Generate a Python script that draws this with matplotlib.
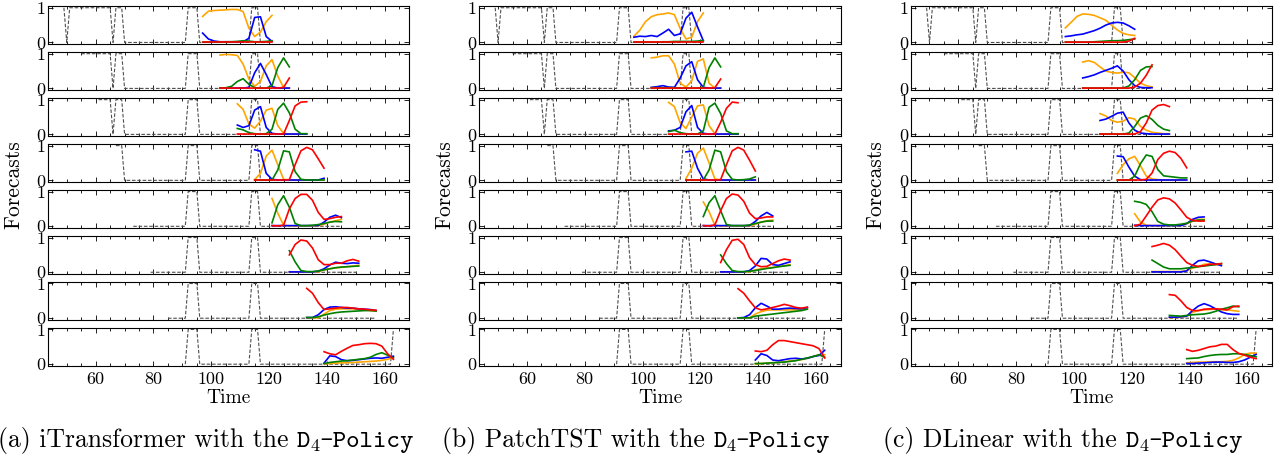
import matplotlib
matplotlib.use("Agg")
import matplotlib.pyplot as plt
from matplotlib.ticker import MultipleLocator
from matplotlib.transforms import IdentityTransform

# ---------------- data ----------------
gt_time_start = 49
gt_values = [1, 0, 1, 1, 1, 1, 1, 1, 1, 1, 1, 1, 1, 1, 1, 1, 1, 0, 1, 1, 1,
             0, 0, 0, 0, 0, 0, 0, 0, 0, 0, 0, 0, 0, 0, 0, 0, 0, 0, 0, 0, 0, 0,
             1, 1, 1, 1,
             0, 0, 0, 0, 0, 0, 0, 0, 0, 0, 0, 0, 0, 0, 0, 0, 0, 0,
             1, 1, 1,
             0, 0, 0, 0, 0, 0, 0, 0, 0, 0, 0, 0, 0, 0, 0, 0, 0, 0, 0, 0, 0, 0, 0,
             0, 0, 0, 0, 0, 0, 0, 0, 0, 0, 0, 0, 0, 0, 0, 0, 0, 0, 0, 0, 0, 0, 0,
             1]
window_starts = [49, 55, 61, 67, 73, 79, 85, 91]
window_length = 73
forecast_starts = [97, 103, 109, 115, 121, 127, 133, 139]
horizon_steps = [0, 2, 4, 6, 8, 10, 12, 14, 16, 18, 20, 22, 24]

xtick_values = [60, 80, 100, 120, 140, 160]
xtick_labels = ["60", "80", "100", "120", "140", "160"]

models = ["iTransformer", "PatchTST", "DLinear"]
panel_letters = ["(a)", "(b)", "(c)"]

itr_orange = [
    [0.75, 0.90, 0.92, 0.93, 0.94, 0.95, 0.95, 0.89, 0.41, 0.17, 0.30, 0.60, 0.78],
    [0.96, 0.98, 0.97, 0.95, 0.70, 0.27, 0.06, 0.20, 0.65, 0.83, 0.35, 0.03, 0.01],
    [0.88, 0.72, 0.30, 0.18, 0.38, 0.70, 0.75, 0.25, 0.03, 0.01, 0.01, 0.01, 0.01],
    [0.02, 0.20, 0.70, 0.87, 0.45, 0.03, 0.01, 0.01, 0.01, 0.01, 0.01, 0.01, 0.01],
    [0.80, 0.38, 0.03, 0.01, 0.01, 0.01, 0.01, 0.01, 0.01, 0.06, 0.12, 0.16, 0.20],
    [0.01, 0.01, 0.01, 0.01, 0.01, 0.01, 0.07, 0.10, 0.13, 0.14, 0.16, 0.18, 0.20],
    [0.01, 0.01, 0.01, 0.12, 0.22, 0.26, 0.27, 0.27, 0.27, 0.26, 0.25, 0.22, 0.20],
    [0.01, 0.02, 0.03, 0.04, 0.04, 0.05, 0.06, 0.07, 0.08, 0.09, 0.11, 0.14, 0.20],
]
itr_blue = [
    [0.27, 0.10, 0.04, 0.02, 0.02, 0.02, 0.02, 0.02, 0.12, 0.72, 0.74, 0.17, 0.03],
    [0.01, 0.01, 0.01, 0.01, 0.01, 0.03, 0.45, 0.72, 0.40, 0.05, 0.01, 0.01, 0.01],
    [0.27, 0.20, 0.25, 0.70, 0.80, 0.20, 0.03, 0.01, 0.01, 0.01, 0.01, 0.01, 0.01],
    [0.88, 0.84, 0.20, 0.03, 0.01, 0.01, 0.01, 0.01, 0.01, 0.01, 0.01, 0.01, 0.06],
    [0.02, 0.02, 0.02, 0.02, 0.02, 0.02, 0.02, 0.02, 0.02, 0.12, 0.26, 0.32, 0.25],
    [0.01, 0.01, 0.01, 0.01, 0.01, 0.03, 0.10, 0.21, 0.29, 0.26, 0.25, 0.27, 0.26],
    [0.02, 0.02, 0.10, 0.25, 0.32, 0.33, 0.31, 0.29, 0.29, 0.27, 0.26, 0.25, 0.22],
    [0.03, 0.24, 0.22, 0.13, 0.10, 0.11, 0.13, 0.15, 0.17, 0.18, 0.17, 0.20, 0.23],
]
itr_green = [
    [0.01, 0.01, 0.01, 0.01, 0.02, 0.02, 0.03, 0.05, 0.04, 0.02, 0.02, 0.03, 0.05],
    [0.01, 0.02, 0.06, 0.20, 0.28, 0.12, 0.02, 0.01, 0.01, 0.08, 0.60, 0.88, 0.62],
    [0.17, 0.13, 0.05, 0.02, 0.01, 0.02, 0.15, 0.72, 0.90, 0.62, 0.15, 0.02, 0.02],
    [0.01, 0.01, 0.01, 0.01, 0.30, 0.85, 0.82, 0.25, 0.03, 0.01, 0.01, 0.01, 0.01],
    [0.10, 0.62, 0.88, 0.55, 0.08, 0.02, 0.02, 0.03, 0.05, 0.08, 0.12, 0.14, 0.13],
    [0.62, 0.30, 0.05, 0.02, 0.02, 0.04, 0.07, 0.10, 0.13, 0.15, 0.16, 0.17, 0.18],
    [0.02, 0.02, 0.04, 0.09, 0.13, 0.16, 0.18, 0.19, 0.20, 0.21, 0.22, 0.22, 0.21],
    [0.02, 0.05, 0.07, 0.09, 0.10, 0.12, 0.14, 0.16, 0.20, 0.28, 0.33, 0.26, 0.18],
]
itr_red = [
    [0.01, 0.01, 0.01, 0.01, 0.01, 0.01, 0.01, 0.01, 0.01, 0.01, 0.01, 0.01, 0.01],
    [0.01, 0.01, 0.01, 0.01, 0.01, 0.01, 0.01, 0.01, 0.01, 0.01, 0.01, 0.03, 0.30],
    [0.01, 0.01, 0.01, 0.01, 0.01, 0.01, 0.01, 0.01, 0.01, 0.40, 0.82, 0.93, 0.94],
    [0.01, 0.01, 0.01, 0.01, 0.01, 0.01, 0.02, 0.45, 0.85, 0.95, 0.88, 0.62, 0.35],
    [0.02, 0.01, 0.03, 0.50, 0.80, 0.92, 0.92, 0.75, 0.40, 0.20, 0.22, 0.26, 0.28],
    [0.50, 0.80, 0.93, 0.90, 0.70, 0.36, 0.22, 0.22, 0.26, 0.26, 0.33, 0.37, 0.32],
    [0.86, 0.72, 0.45, 0.25, 0.27, 0.29, 0.31, 0.31, 0.29, 0.27, 0.26, 0.24, 0.23],
    [0.36, 0.30, 0.27, 0.37, 0.46, 0.54, 0.56, 0.59, 0.60, 0.59, 0.52, 0.30, 0.14],
]

pts_orange = [
    [0.18, 0.35, 0.60, 0.74, 0.80, 0.82, 0.85, 0.80, 0.40, 0.10, 0.15, 0.60, 0.85],
    [0.88, 0.90, 0.94, 0.94, 0.70, 0.15, 0.04, 0.22, 0.78, 0.85, 0.15, 0.01, 0.01],
    [0.92, 0.80, 0.33, 0.17, 0.50, 0.82, 0.85, 0.25, 0.02, 0.01, 0.01, 0.01, 0.01],
    [0.05, 0.35, 0.78, 0.93, 0.50, 0.04, 0.01, 0.01, 0.01, 0.01, 0.01, 0.01, 0.01],
    [0.70, 0.42, 0.03, 0.01, 0.01, 0.01, 0.01, 0.01, 0.01, 0.06, 0.12, 0.16, 0.18],
    [0.01, 0.01, 0.01, 0.01, 0.01, 0.01, 0.07, 0.10, 0.12, 0.14, 0.16, 0.19, 0.22],
    [0.01, 0.01, 0.01, 0.12, 0.19, 0.23, 0.24, 0.24, 0.24, 0.24, 0.24, 0.24, 0.28],
    [0.01, 0.02, 0.03, 0.04, 0.05, 0.07, 0.09, 0.11, 0.13, 0.17, 0.22, 0.27, 0.27],
]
pts_blue = [
    [0.15, 0.18, 0.17, 0.20, 0.17, 0.27, 0.38, 0.20, 0.25, 0.70, 0.87, 0.45, 0.05],
    [0.03, 0.05, 0.08, 0.04, 0.03, 0.30, 0.65, 0.77, 0.25, 0.03, 0.01, 0.01, 0.01],
    [0.10, 0.12, 0.20, 0.65, 0.83, 0.20, 0.03, 0.01, 0.01, 0.01, 0.01, 0.01, 0.01],
    [0.82, 0.84, 0.35, 0.04, 0.01, 0.01, 0.01, 0.01, 0.01, 0.01, 0.01, 0.01, 0.01],
    [0.02, 0.02, 0.02, 0.02, 0.02, 0.02, 0.02, 0.02, 0.02, 0.14, 0.30, 0.40, 0.30],
    [0.01, 0.01, 0.01, 0.01, 0.01, 0.05, 0.18, 0.40, 0.38, 0.22, 0.20, 0.25, 0.30],
    [0.01, 0.02, 0.10, 0.30, 0.43, 0.35, 0.26, 0.26, 0.28, 0.29, 0.28, 0.27, 0.31],
    [0.12, 0.30, 0.25, 0.12, 0.10, 0.13, 0.16, 0.17, 0.15, 0.17, 0.22, 0.25, 0.40],
]
pts_green = [
    [0.01, 0.01, 0.01, 0.01, 0.01, 0.02, 0.02, 0.03, 0.03, 0.03, 0.03, 0.04, 0.06],
    [0.02, 0.02, 0.02, 0.02, 0.02, 0.01, 0.01, 0.01, 0.01, 0.03, 0.60, 0.88, 0.62],
    [0.08, 0.12, 0.05, 0.02, 0.01, 0.01, 0.10, 0.78, 0.90, 0.60, 0.10, 0.02, 0.02],
    [0.01, 0.01, 0.01, 0.01, 0.30, 0.87, 0.82, 0.25, 0.03, 0.01, 0.02, 0.04, 0.10],
    [0.28, 0.68, 0.88, 0.45, 0.05, 0.02, 0.02, 0.02, 0.04, 0.08, 0.12, 0.15, 0.15],
    [0.50, 0.25, 0.05, 0.02, 0.02, 0.03, 0.05, 0.08, 0.11, 0.13, 0.16, 0.18, 0.20],
    [0.01, 0.01, 0.01, 0.06, 0.08, 0.10, 0.12, 0.14, 0.16, 0.18, 0.20, 0.22, 0.26],
    [0.02, 0.02, 0.03, 0.04, 0.05, 0.06, 0.08, 0.10, 0.14, 0.18, 0.22, 0.27, 0.20],
]
pts_red = [
    [0.01, 0.01, 0.01, 0.01, 0.01, 0.01, 0.01, 0.01, 0.01, 0.01, 0.01, 0.01, 0.01],
    [0.01, 0.01, 0.01, 0.01, 0.01, 0.01, 0.01, 0.01, 0.01, 0.01, 0.01, 0.02, 0.27],
    [0.01, 0.01, 0.01, 0.01, 0.01, 0.01, 0.01, 0.01, 0.01, 0.35, 0.75, 0.93, 0.91],
    [0.01, 0.01, 0.01, 0.01, 0.01, 0.01, 0.02, 0.45, 0.85, 0.95, 0.87, 0.58, 0.27],
    [0.02, 0.01, 0.04, 0.45, 0.80, 0.93, 0.90, 0.72, 0.38, 0.22, 0.24, 0.27, 0.27],
    [0.28, 0.65, 0.92, 0.95, 0.80, 0.42, 0.22, 0.16, 0.17, 0.25, 0.33, 0.38, 0.35],
    [0.85, 0.72, 0.50, 0.30, 0.24, 0.27, 0.31, 0.35, 0.40, 0.36, 0.31, 0.29, 0.32],
    [0.38, 0.36, 0.40, 0.56, 0.68, 0.68, 0.65, 0.62, 0.59, 0.56, 0.53, 0.45, 0.18],
]

dl_orange = [
    [0.42, 0.58, 0.75, 0.82, 0.81, 0.78, 0.71, 0.64, 0.50, 0.36, 0.26, 0.22, 0.20],
    [0.76, 0.80, 0.75, 0.62, 0.50, 0.46, 0.44, 0.47, 0.45, 0.31, 0.15, 0.08, 0.04],
    [0.60, 0.53, 0.40, 0.35, 0.38, 0.48, 0.44, 0.23, 0.12, 0.06, 0.04, 0.02, 0.02],
    [0.20, 0.45, 0.62, 0.69, 0.42, 0.12, 0.04, 0.02, 0.01, 0.01, 0.01, 0.01, 0.01],
    [0.36, 0.12, 0.03, 0.02, 0.02, 0.02, 0.02, 0.02, 0.02, 0.07, 0.15, 0.20, 0.20],
    [0.02, 0.02, 0.02, 0.02, 0.02, 0.02, 0.05, 0.12, 0.16, 0.23, 0.24, 0.22, 0.24],
    [0.02, 0.02, 0.03, 0.06, 0.17, 0.22, 0.24, 0.25, 0.27, 0.24, 0.24, 0.22, 0.20],
    [0.04, 0.05, 0.06, 0.06, 0.07, 0.07, 0.07, 0.08, 0.11, 0.18, 0.28, 0.32, 0.32],
]
dl_blue = [
    [0.17, 0.19, 0.22, 0.24, 0.29, 0.34, 0.41, 0.50, 0.56, 0.58, 0.56, 0.48, 0.38],
    [0.30, 0.34, 0.39, 0.46, 0.52, 0.58, 0.65, 0.50, 0.25, 0.08, 0.03, 0.02, 0.02],
    [0.40, 0.44, 0.52, 0.61, 0.64, 0.33, 0.12, 0.04, 0.02, 0.01, 0.01, 0.01, 0.01],
    [0.70, 0.68, 0.38, 0.12, 0.02, 0.01, 0.01, 0.01, 0.01, 0.01, 0.01, 0.01, 0.01],
    [0.03, 0.02, 0.02, 0.02, 0.02, 0.02, 0.02, 0.02, 0.02, 0.08, 0.20, 0.26, 0.27],
    [0.01, 0.01, 0.01, 0.01, 0.01, 0.01, 0.04, 0.20, 0.33, 0.35, 0.30, 0.24, 0.19],
    [0.03, 0.03, 0.04, 0.06, 0.22, 0.35, 0.42, 0.36, 0.27, 0.18, 0.13, 0.11, 0.11],
    [0.02, 0.02, 0.03, 0.04, 0.05, 0.06, 0.06, 0.05, 0.05, 0.07, 0.12, 0.20, 0.28],
]
dl_green = [
    [0.01, 0.01, 0.01, 0.01, 0.01, 0.02, 0.03, 0.04, 0.05, 0.05, 0.06, 0.08, 0.10],
    [0.01, 0.01, 0.01, 0.01, 0.01, 0.01, 0.01, 0.01, 0.07, 0.25, 0.52, 0.62, 0.63],
    [0.01, 0.01, 0.01, 0.01, 0.01, 0.04, 0.23, 0.47, 0.54, 0.43, 0.26, 0.15, 0.11],
    [0.01, 0.01, 0.01, 0.12, 0.48, 0.73, 0.69, 0.31, 0.13, 0.11, 0.09, 0.07, 0.07],
    [0.72, 0.69, 0.63, 0.42, 0.14, 0.06, 0.04, 0.04, 0.06, 0.09, 0.15, 0.18, 0.18],
    [0.35, 0.25, 0.15, 0.10, 0.10, 0.10, 0.12, 0.14, 0.16, 0.18, 0.20, 0.22, 0.25],
    [0.08, 0.07, 0.06, 0.08, 0.10, 0.11, 0.12, 0.15, 0.20, 0.26, 0.30, 0.35, 0.33],
    [0.16, 0.17, 0.18, 0.22, 0.25, 0.27, 0.28, 0.28, 0.30, 0.30, 0.28, 0.25, 0.21],
]
dl_red = [
    [0.01, 0.01, 0.01, 0.01, 0.01, 0.01, 0.01, 0.01, 0.01, 0.01, 0.01, 0.04, 0.12],
    [0.01, 0.01, 0.01, 0.01, 0.01, 0.01, 0.01, 0.01, 0.01, 0.04, 0.15, 0.38, 0.68],
    [0.01, 0.01, 0.01, 0.01, 0.01, 0.01, 0.01, 0.08, 0.33, 0.70, 0.83, 0.86, 0.80],
    [0.01, 0.01, 0.01, 0.01, 0.01, 0.03, 0.21, 0.60, 0.78, 0.84, 0.80, 0.63, 0.36],
    [0.02, 0.06, 0.30, 0.55, 0.76, 0.82, 0.79, 0.67, 0.47, 0.26, 0.17, 0.15, 0.15],
    [0.74, 0.78, 0.83, 0.78, 0.65, 0.46, 0.28, 0.20, 0.17, 0.19, 0.23, 0.23, 0.25],
    [0.68, 0.66, 0.50, 0.31, 0.22, 0.22, 0.26, 0.27, 0.27, 0.26, 0.24, 0.33, 0.35],
    [0.42, 0.37, 0.40, 0.45, 0.50, 0.52, 0.57, 0.57, 0.42, 0.31, 0.26, 0.20, 0.16],
]

series_colors = ["orange", "blue", "green", "red"]
panel_series = [
    [itr_orange, itr_blue, itr_green, itr_red],
    [pts_orange, pts_blue, pts_green, pts_red],
    [dl_orange, dl_blue, dl_green, dl_red],
]

# ---------------- layout ----------------
W, H = 1281, 462
fig = plt.figure(figsize=(W / 100, H / 100), dpi=100)
plt.rcParams["font.family"] = "cmr10"

panel_left = [48.0, 479.3, 910.7]
panel_w = 361.3
row_top0 = 6.0
row_pitch = 45.96
row_h = 38.2

gt_time = list(range(gt_time_start, gt_time_start + len(gt_values)))

for p in range(3):
    for r in range(8):
        top = row_top0 + r * row_pitch
        ax = fig.add_axes([panel_left[p] / W, 1 - (top + row_h) / H, panel_w / W, row_h / H])
        i0 = window_starts[r] - gt_time_start
        ax.plot(gt_time[i0:i0 + window_length], gt_values[i0:i0 + window_length],
                ls=(0, (3.2, 1.6)), color="#505050", lw=0.8)
        ft = [forecast_starts[r] + h for h in horizon_steps]
        for vals, col in zip(panel_series[p], series_colors):
            ax.plot(ft, vals[r], color=col, lw=1.2)
        ax.set_xlim(43.5, 168.5)
        ax.set_ylim(-0.05, 1.05)
        ax.set_yticks([0, 1], labels=["0", "1"], fontsize=13)
        if r == 7:
            ax.set_xticks(xtick_values, labels=xtick_labels, fontsize=13)
        else:
            ax.set_xticks(xtick_values, labels=[""] * len(xtick_values))
        ax.xaxis.set_minor_locator(MultipleLocator(5))
        ax.tick_params(which="both", direction="in", top=True, right=True, width=0.6)
        ax.tick_params(which="major", length=3.5, pad=2)
        ax.tick_params(axis="x", which="major", pad=4)
        ax.tick_params(which="minor", length=2.0)
        for s in ax.spines.values():
            s.set_linewidth(0.8)
    fig.text((14 + 431 * p) / W, 1 - 185 / H, "Forecasts", rotation=90,
             ha="center", va="center", fontsize=15.5)
    fig.text((panel_left[p] + panel_w / 2) / W, 1 - 398 / H, "Time",
             ha="center", va="center", fontsize=14)

# ---------------- captions ----------------
cap_size = 18.5
cap_centers = [206, 636, 1063]
cap_baseline_from_top = 447
renderer = fig.canvas.get_renderer()
em_px = cap_size * 100 / 72
for p in range(3):
    parts = [(panel_letters[p] + " " + models[p] + " with the", "cmr10", cap_size, 0.0, 0.333 * em_px),
             ("D", "cmtt10", cap_size, 0.0, 0.0),
             ("4", "cmr10", cap_size * 0.7, -0.15 * em_px, 0.0),
             ("-Policy", "cmtt10", cap_size, 0.0, 0.0)]
    texts = []
    widths = []
    for s, fam, sz, dy, gap in parts:
        t = fig.text(0, 0, s, family=fam, fontsize=sz, ha="left", va="baseline",
                     transform=IdentityTransform())
        texts.append(t)
        widths.append(t.get_window_extent(renderer).width + gap)
    total = sum(widths)
    x = cap_centers[p] - total / 2
    ybase = H - cap_baseline_from_top
    for t, w, (s, fam, sz, dy, gap) in zip(texts, widths, parts):
        t.set_position((x, ybase + dy))
        x += w

fig.savefig("out.png", dpi=100)
